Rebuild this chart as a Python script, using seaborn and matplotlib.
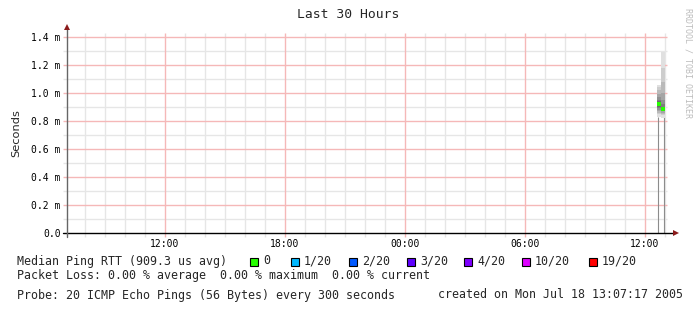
import numpy as np
import pandas as pd
import seaborn as sns
import matplotlib
matplotlib.use("Agg")
import matplotlib.pyplot as plt

# ---------------- data ----------------
title = "Last 30 Hours"
x_start, x_end = 7.1214, 37.1214          # hours since Jul 17 00:00 (07:07:17 .. 13:07:17 next day)
xtick_pos = [12, 18, 24, 30, 36]
xtick_labels = ["12:00", "18:00", "00:00", "06:00", "12:00"]
ytick_vals = [0.0, 0.2e-3, 0.4e-3, 0.6e-3, 0.8e-3, 1.0e-3, 1.2e-3, 1.4e-3]
ytick_labels = ["0.0", "0.2 m", "0.4 m", "0.6 m", "0.8 m", "1.0 m", "1.2 m", "1.4 m"]

sample_times = [36.72, 36.92]              # hours
sample_width = 0.2
median_rtt = [0.92e-3, 0.885e-3]           # seconds
pings_a = [0.83, 0.85, 0.86, 0.87, 0.88, 0.89, 0.90, 0.905, 0.91, 0.915,
           0.92, 0.925, 0.93, 0.94, 0.95, 0.97, 0.99, 1.02, 1.04, 1.06]
pings_b = [0.82, 0.84, 0.85, 0.86, 0.87, 0.875, 0.88, 0.88, 0.885, 0.885,
           0.885, 0.89, 0.895, 0.90, 0.92, 0.95, 1.00, 1.08, 1.18, 1.29]
pings_ms = [pings_a, pings_b]
edge_lines = [36.67, 36.97]

legend_labels = ["0", "1/20", "2/20", "3/20", "4/20", "10/20", "19/20"]
legend_colors = ["#26ff00", "#00b8ff", "#0059ff", "#5e00ff", "#7e00ff", "#dd00ff", "#ff0000"]
legend_x_px = [250, 291, 349, 407, 464, 522, 589]

# ---------------- figure ----------------
sns.set_style("white")
plt.rcParams["font.family"] = ["DejaVu Sans Mono", "DejaVu Sans"]

W, H = 697, 313
fig = plt.figure(figsize=(W / 100, H / 100), dpi=100)
ax_l, ax_r, ax_t, ax_b = 67, 667, 33, 233
ax = fig.add_axes([ax_l / W, 1 - ax_b / H, (ax_r - ax_l) / W, (ax_b - ax_t) / H])
ymax = 200 / 140 * 1e-3
ax.set_xlim(x_start, x_end)
ax.set_ylim(0, ymax)
for s in ax.spines.values():
    s.set_visible(False)

GLW = 1.0
minor_col = "#e6e6e6"
major_col = "#f5b8b8"
# grid
minor_x = np.arange(8, 38, 1)
for xv in minor_x:
    if xv in xtick_pos:
        continue
    ax.vlines(xv, -0.03e-3, ymax, colors=minor_col, lw=GLW, zorder=1, clip_on=False)
for yv in np.arange(0.1e-3, 1.45e-3, 0.2e-3):
    ax.hlines(yv, x_start - 0.2, x_end, colors=minor_col, lw=GLW, zorder=1, clip_on=False)
for xv in xtick_pos:
    ax.vlines(xv, -0.03e-3, ymax, colors=major_col, lw=GLW, zorder=1.5, clip_on=False)
for yv in ytick_vals[1:]:
    ax.hlines(yv, x_start - 0.2, x_end, colors=major_col, lw=GLW, zorder=1.5, clip_on=False)

# vertical edge lines
for xe in edge_lines:
    ax.vlines(xe, 0, 0.83e-3, colors="#8c8c8c", lw=0.8, zorder=2)

# smoke
for t, pings in zip(sample_times, pings_ms):
    p = np.sort(np.array(pings)) * 1e-3
    n = len(p)
    half = n // 2
    for i in range(half):
        lo, hi = p[i], p[n - 1 - i]
        g = 0.88 - 0.70 * (i / (half - 1))
        ax.fill_between([t - sample_width / 2, t + sample_width / 2], lo, hi,
                        color=(g, g, g), lw=0, zorder=3)

# median points
df = pd.DataFrame({"time": sample_times, "median": median_rtt})
sns.scatterplot(data=df, x="time", y="median", ax=ax, color="#26ff00",
                marker="s", s=7, edgecolor="none", zorder=5, legend=False)

# ticks
ax.set_xticks(xtick_pos)
ax.set_xticklabels(xtick_labels, fontsize=7)
ax.set_yticks(ytick_vals)
ax.set_yticklabels(ytick_labels, fontsize=7)
ax.tick_params(axis="both", length=0, colors="black")
ax.tick_params(axis="y", pad=4.5)
ax.tick_params(axis="x", pad=4)
ax.grid(False)
ax.set_xlabel("")
ax.set_ylabel("")

# axes lines with arrows
fig.add_artist(plt.Line2D([63 / W, 674 / W], [1 - 233 / H] * 2, color="black", lw=1.0))
fig.add_artist(plt.Line2D([67 / W] * 2, [1 - 237 / H, 1 - 28 / H], color="#666666", lw=1.0))
fig.add_artist(plt.Line2D([676 / W], [1 - 233 / H], marker=">", color="#8b1a1a", ms=4.5, mew=0))
fig.add_artist(plt.Line2D([67 / W], [1 - 27 / H], marker="^", color="#8b1a1a", ms=4.5, mew=0))

# texts
fig.text(348 / W, 1 - 15 / H, title, ha="center", va="center", fontsize=9.4)
fig.text(16 / W, 1 - 133 / H, "Seconds", rotation=90, ha="center", va="center",
         fontsize=8.2, family=["DejaVu Sans"])
fig.text(688 / W, 1 - 63 / H, "RRDTOOL / TOBI OETIKER", rotation=270, ha="center",
         va="center", fontsize=6, color="#bdbdbd")

fs = 8.35
fig.text(17 / W, 1 - 261 / H, "Median Ping RTT (909.3 us avg)", ha="left", va="center", fontsize=fs)
for lx, lab, col in zip(legend_x_px, legend_labels, legend_colors):
    fig.add_artist(plt.Rectangle(((lx) / W, 1 - 265.5 / H), 8 / W, 8 / H,
                                 facecolor=col, edgecolor="black", lw=0.8))
    fig.text((lx + 13) / W, 1 - 261 / H, lab, ha="left", va="center", fontsize=fs)
fig.text(17 / W, 1 - 275 / H, "Packet Loss: 0.00 % average  0.00 % maximum  0.00 % current",
         ha="left", va="center", fontsize=fs)
fig.text(17 / W, 1 - 295 / H, "Probe: 20 ICMP Echo Pings (56 Bytes) every 300 seconds",
         ha="left", va="center", fontsize=fs)
fig.text(683 / W, 1 - 295 / H, "created on Mon Jul 18 13:07:17 2005",
         ha="right", va="center", fontsize=fs)

fig.savefig("out.png", dpi=100)
